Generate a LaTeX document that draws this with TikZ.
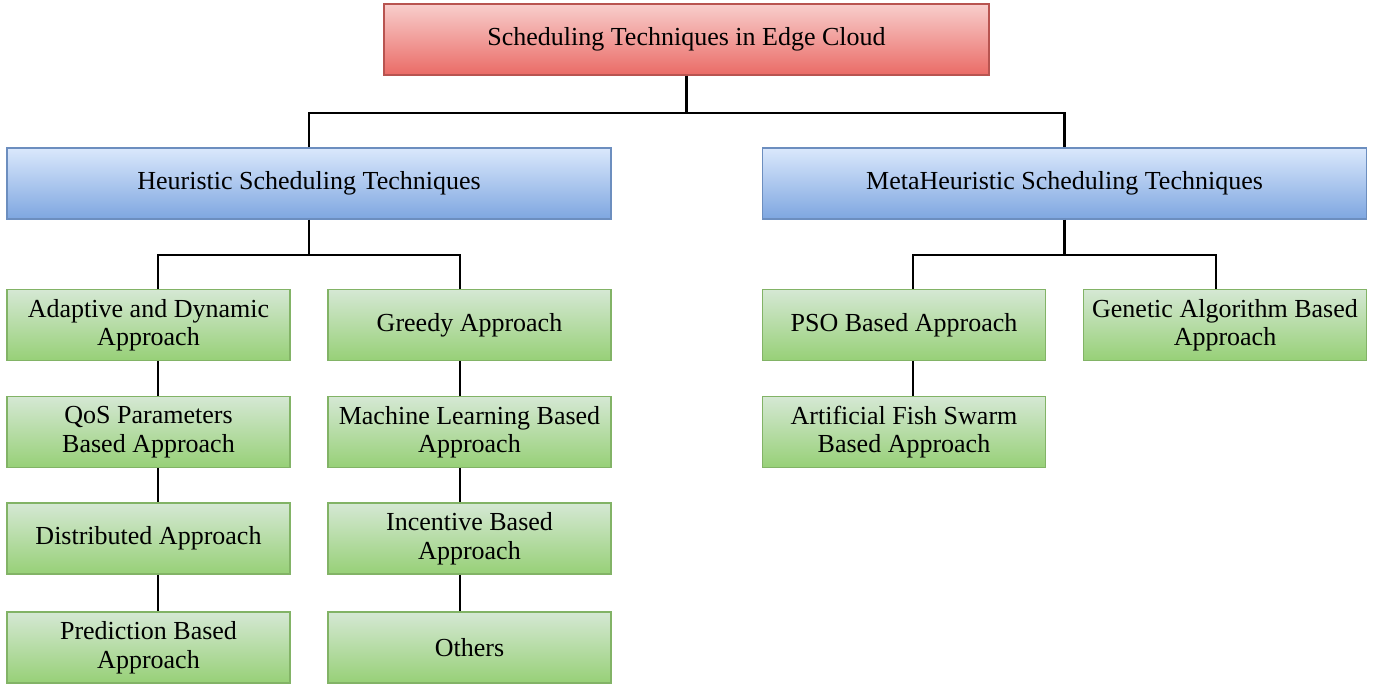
\documentclass[tikz,border=0pt]{standalone}
\usepackage{fontspec}
\setmainfont{Liberation Serif}
\usetikzlibrary{calc}
\definecolor{redtop}{HTML}{F8CECC}
\definecolor{redbot}{HTML}{EA6B66}
\definecolor{redline}{HTML}{B85450}
\definecolor{bluetop}{HTML}{DAE8FC}
\definecolor{bluebot}{HTML}{7EA6E0}
\definecolor{blueline}{HTML}{6C8EBF}
\definecolor{greentop}{HTML}{D5E8D4}
\definecolor{greenbot}{HTML}{97D077}
\definecolor{greenline}{HTML}{82B366}
\tikzset{
  box/.style={draw, line width=1.4pt, inner sep=0pt, align=center,
    minimum height=71pt, font=\fontsize{26}{28.5}\selectfont, shading=axis, shading angle=0},
  rootbox/.style={box, minimum width=605pt, top color=redtop, bottom color=redbot, draw=redline},
  catbox/.style={box, minimum width=604pt, top color=bluetop, bottom color=bluebot, draw=blueline},
  leafbox/.style={box, minimum width=283pt, top color=greentop, bottom color=greenbot, draw=greenline},
  conn/.style={line width=2.8pt, black}
}
\begin{document}
\begin{tikzpicture}[x=1pt,y=-1pt]
\useasboundingbox (0,0) rectangle (1381,685);
\fill[white] (0,0) rectangle (1381,685);
\node[rootbox] (top) at (686.5,39.5) {Scheduling Techniques in Edge Cloud};
\node[catbox] (heu) at (309,183.5) {Heuristic Scheduling Techniques};
\node[catbox] (meta) at (1064.5,183.5) {MetaHeuristic Scheduling Techniques};
\node[leafbox] (a1) at (148.5,325) {Adaptive and Dynamic\\Approach};
\node[leafbox] (a2) at (148.5,432) {QoS Parameters\\Based Approach};
\node[leafbox] (a3) at (148.5,538.5) {Distributed Approach};
\node[leafbox] (a4) at (148.5,647.5) {Prediction Based\\Approach};
\node[leafbox] (b1) at (469.5,325) {Greedy Approach};
\node[leafbox] (b2) at (469.5,432) {Machine Learning Based\\Approach};
\node[leafbox] (b3) at (469.5,538.5) {Incentive Based\\Approach};
\node[leafbox] (b4) at (469.5,647.5) {Others};
\node[leafbox] (p1) at (904,325) {PSO Based Approach};
\node[leafbox] (p2) at (904,432) {Artificial Fish Swarm\\Based Approach};
\node[leafbox] (g1) at (1225,325) {Genetic Algorithm Based\\Approach};
\coordinate (j0) at (686.5,113);
\coordinate (j1) at (309,255);
\coordinate (j2) at (1064.5,255);
\draw[conn] (top.south) -- (j0);
\draw[conn] (heu.north) |- (j0) -| (meta.north);
\draw[conn] (heu.south) -- (j1);
\draw[conn] ([xshift=9.5pt]a1.north) |- (j1) -| ([xshift=-9.5pt]b1.north);
\draw[conn] (meta.south) -- (j2);
\draw[conn] ([xshift=9pt]p1.north) |- (j2) -| ([xshift=-9pt]g1.north);
\draw[conn] ([xshift=9.5pt]a1.south) -- ([xshift=9.5pt]a2.north);
\draw[conn] ([xshift=9.5pt]a2.south) -- ([xshift=9.5pt]a3.north);
\draw[conn] ([xshift=9.5pt]a3.south) -- ([xshift=9.5pt]a4.north);
\draw[conn] ([xshift=-9.5pt]b1.south) -- ([xshift=-9.5pt]b2.north);
\draw[conn] ([xshift=-9.5pt]b2.south) -- ([xshift=-9.5pt]b3.north);
\draw[conn] ([xshift=-9.5pt]b3.south) -- ([xshift=-9.5pt]b4.north);
\draw[conn] ([xshift=9pt]p1.south) -- ([xshift=9pt]p2.north);
\end{tikzpicture}
\end{document}
